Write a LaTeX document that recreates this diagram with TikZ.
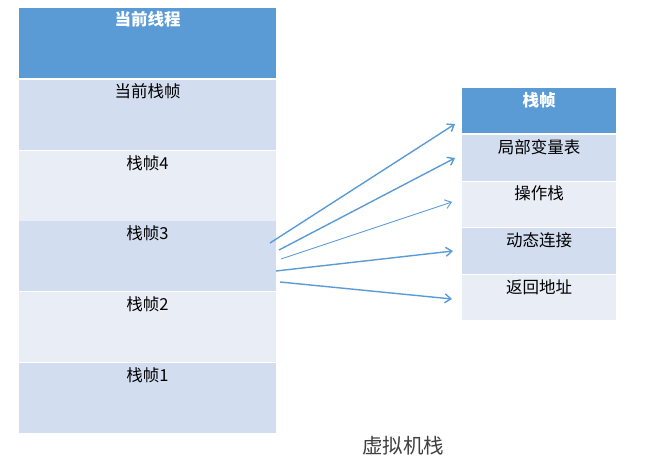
\documentclass[tikz,border=0pt]{standalone}
\usepackage{fontspec}
\setmainfont{Noto Sans CJK SC}
\usetikzlibrary{arrows.meta,calc}
\definecolor{hdrblue}{HTML}{5B9BD5}
\definecolor{rowdark}{HTML}{D2DDEF}
\definecolor{rowlight}{HTML}{E9EDF6}
\definecolor{captiongray}{HTML}{404040}
\definecolor{arrblue}{HTML}{5B9BD5}
\begin{document}
\begin{tikzpicture}[x=1pt,y=-1pt,
  cell/.style={draw=none,inner sep=0pt,anchor=north west},
  lcell/.style={cell,minimum width=257pt,minimum height=70pt},
  rcell/.style={cell,minimum width=154pt,minimum height=45.5pt},
  hdrtxt/.style={text=white,font=\fontsize{16.5}{19}\selectfont\bfseries,inner sep=0pt},
  celltxt/.style={text=black,font=\fontsize{16.5}{19}\selectfont,inner sep=0pt},
  arr/.style={draw=arrblue,line width=1.4pt,-{Straight Barb[length=6pt,width=9pt]}},
  thinarr/.style={arr,line width=0.9pt}]
\useasboundingbox (0,0) rectangle (668,470);
% left table
\node[lcell,fill=hdrblue] (lh) at (19,8) {};
\node[lcell,fill=rowdark] (l1) at (19,80) {};
\node[lcell,fill=rowlight] (l2) at (19,151) {};
\node[lcell,fill=rowdark] (l3) at (19,221) {};
\node[lcell,fill=rowlight] (l4) at (19,292) {};
\node[lcell,fill=rowdark] (l5) at (19,363) {};
\node[hdrtxt] (lht) at (147.5,19) {当前线程};
\node[celltxt] (l1t) at (147.5,91) {当前栈帧};
\node[celltxt] (l2t) at (147.5,163) {栈帧4};
\node[celltxt] (l3t) at (147.5,233) {栈帧3};
\node[celltxt] (l4t) at (147.5,304) {栈帧2};
\node[celltxt] (l5t) at (147.5,375) {栈帧1};
% right table
\node[rcell,fill=hdrblue,minimum height=45pt] (rh) at (462,88) {};
\node[rcell,fill=rowdark] (r1) at (462,135) {};
\node[rcell,fill=rowlight] (r2) at (462,181.5) {};
\node[rcell,fill=rowdark] (r3) at (462,228) {};
\node[rcell,fill=rowlight] (r4) at (462,274.5) {};
\node[hdrtxt] (rht) at (539,100) {栈帧};
\node[celltxt] (r1t) at (539,147) {局部变量表};
\node[celltxt] (r2t) at (539,193) {操作栈};
\node[celltxt] (r3t) at (539,240) {动态连接};
\node[celltxt] (r4t) at (539,287) {返回地址};
% arrows
\coordinate (s1) at (270,243);
\coordinate (s2) at (279,250);
\coordinate (s3) at (281,259);
\coordinate (s4) at (276,271);
\coordinate (s5) at (280,282);
\coordinate (e1) at (455,124);
\coordinate (e2) at (455,158);
\coordinate (e3) at (452,202);
\coordinate (e4) at (453,251);
\coordinate (e5) at (452,299);
\draw[arr] (s1) -- (e1);
\draw[arr] (s2) -- (e2);
\draw[thinarr] (s3) -- (e3);
\draw[arr] (s4) -- (e4);
\draw[arr] (s5) -- (e5);
% caption
\node[text=captiongray,font=\fontsize{20.5}{24}\selectfont,inner sep=0pt] (cap) at (403,446) {虚拟机栈};
\end{tikzpicture}
\end{document}
